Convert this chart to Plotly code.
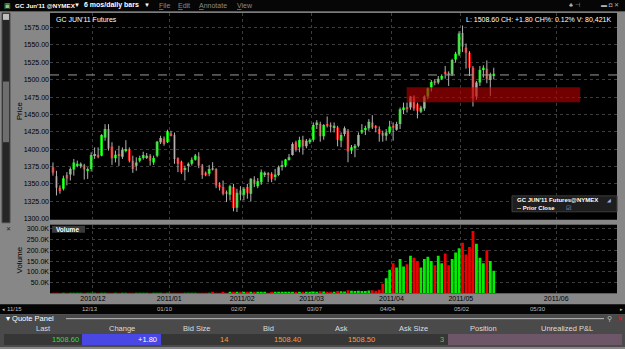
import plotly.graph_objects as go
import pandas as pd

# ---------------- data ----------------
dates = [d.strftime('%Y-%m-%d') for d in pd.bdate_range('2010-11-15', '2011-05-13')
         if d.strftime('%Y-%m-%d') not in ('2010-12-24', '2011-04-22')]

opens = [1374, 1361, 1344.5, 1343, 1363, 1363.5, 1370.7, 1376, 1375.5, 1377,
         1369, 1371.6, 1390.7, 1392, 1390.7, 1417, 1429, 1404, 1387, 1393,
         1389.3, 1398, 1400.3, 1383.6, 1376.4, 1383.6, 1387.4, 1388.3, 1390.7, 1381,
         1390.7, 1410, 1415.5, 1410, 1422.7, 1420.3, 1387, 1382, 1370.7, 1376.4,
         1379, 1385, 1389.4, 1376.5, 1366, 1364.6, 1372.7, 1371.7, 1349.3, 1345.5,
         1338.3, 1334.5, 1345.5, 1315.9, 1340.7, 1334.5, 1345.5, 1335.9, 1356.5, 1346.9,
         1352.6, 1363.1, 1364.6, 1364.6, 1361.2, 1363.1, 1374.6, 1376.5, 1386, 1391.8,
         1409.9, 1402.7, 1413.7, 1404.2, 1409.9, 1413.7, 1434.7, 1436.1, 1418.5, 1436.1,
         1434.7, 1431.3, 1431.3, 1412.3, 1421.8, 1426.6, 1398, 1401.3, 1405.1, 1424.2,
         1428, 1430, 1438.5, 1432.8, 1429, 1423.3, 1419.5, 1424.2, 1433.8, 1428,
         1436.1, 1457.6, 1460, 1460, 1475.7, 1464.8, 1453.8, 1458.6, 1475.7, 1488.6,
         1498.2, 1495.8, 1501.5, 1511.5, 1509, 1507.7, 1529.2, 1536.3, 1567.3, 1545.9,
         1538.7, 1517.2, 1475.7, 1495.8, 1513.9, 1515.8, 1499.6, 1506.8]
highs = [1381, 1369, 1348, 1362, 1367, 1374, 1386, 1383.6, 1381, 1379,
         1374, 1395.5, 1402.6, 1402.6, 1421.7, 1436, 1436, 1410, 1398, 1405,
         1402.6, 1413, 1402.6, 1390.7, 1388.3, 1390.7, 1396.4, 1394.5, 1393, 1390.7,
         1412, 1419.4, 1418.4, 1428, 1426.5, 1424, 1388.3, 1383.6, 1376.4, 1381,
         1388.3, 1393.2, 1395.6, 1378.9, 1367.9, 1377.4, 1381.3, 1372.7, 1352.6, 1355,
         1340.7, 1348.8, 1350.2, 1343.1, 1346.9, 1345.5, 1350.2, 1358.4, 1361.2, 1358.4,
         1370.8, 1367.9, 1367, 1367, 1371.7, 1376.5, 1383.6, 1386, 1393.2, 1409.9,
         1412.3, 1418, 1419.4, 1414.7, 1415.6, 1438.5, 1441.8, 1439.5, 1436.1, 1447.1,
         1438.5, 1438.5, 1433.7, 1424.2, 1432.8, 1429, 1406.1, 1407.5, 1424.2, 1436.1,
         1433.8, 1443.3, 1449, 1434.7, 1432.8, 1426.6, 1429, 1440.9, 1438.5, 1439.5,
         1460, 1467.1, 1467.1, 1476.7, 1477.6, 1467.1, 1462.4, 1477.6, 1488.6, 1499.6,
         1500.5, 1505.3, 1507.7, 1519.6, 1512, 1530.1, 1540.1, 1569.7, 1577.8, 1552,
         1541, 1519.6, 1498.2, 1519.6, 1520.6, 1527.7, 1510.1, 1517.2]
lows = [1362, 1333.5, 1336, 1340.6, 1348, 1355, 1362, 1374, 1372.6, 1356.4,
        1357.3, 1368, 1386, 1387, 1389.8, 1412.2, 1398, 1377.4, 1381, 1376,
        1386, 1395.5, 1381, 1366, 1369, 1381, 1385, 1386, 1376.4, 1377.4,
        1388.3, 1407.4, 1405, 1409, 1418.4, 1379, 1367, 1364.5, 1355, 1367,
        1376.4, 1383.6, 1372.7, 1357.4, 1361.2, 1361.2, 1369.4, 1344, 1340.7, 1333.6,
        1324, 1326.4, 1310.7, 1309.7, 1326.4, 1326.4, 1328.8, 1325, 1345.5, 1344,
        1348.8, 1359.8, 1352.6, 1352.6, 1355, 1361.2, 1369.4, 1374.1, 1383.6, 1390.8,
        1396.5, 1395.6, 1392.2, 1401.3, 1407.5, 1410.8, 1429, 1410.8, 1413.7, 1431.3,
        1424.2, 1424.2, 1404.2, 1402.8, 1418.5, 1381.3, 1393.2, 1388.5, 1402.8, 1421.8,
        1420.4, 1426.6, 1429, 1424.2, 1410.8, 1410.8, 1412.3, 1421.8, 1412.3, 1426.6,
        1429, 1450.5, 1452.8, 1456.7, 1455.2, 1444.3, 1451.9, 1455.2, 1471.9, 1483,
        1492, 1493.4, 1499.6, 1501.5, 1491, 1505.3, 1524.4, 1533.9, 1539.7, 1515.8,
        1505.3, 1461.4, 1471, 1491, 1502.9, 1494.8, 1476.7, 1500.5]
closes = [1366, 1344.5, 1340, 1358.3, 1358, 1371.6, 1381, 1379, 1379, 1370.7,
          1371.6, 1391.7, 1393, 1389.8, 1420.3, 1429, 1401, 1387, 1392, 1390.7,
          1399.3, 1400.3, 1383.6, 1371.6, 1381, 1387.4, 1391.7, 1390.7, 1383.6, 1387.4,
          1410.8, 1416, 1407.4, 1426, 1420.3, 1386, 1379, 1367, 1373, 1379,
          1385, 1390.8, 1376.5, 1363.1, 1364, 1371.7, 1370.3, 1347.9, 1345.5, 1336,
          1336, 1346.9, 1315.4, 1337.4, 1334.5, 1343.1, 1337.4, 1357.4, 1350.3, 1354.1,
          1366.9, 1366, 1363.1, 1357.4, 1363.6, 1374.1, 1376.5, 1385.1, 1388.4, 1407.5,
          1399.4, 1413.2, 1404.2, 1412.3, 1413.7, 1434.7, 1438.5, 1418.5, 1434.7, 1433.7,
          1432.8, 1433.7, 1413.7, 1420.4, 1430, 1396.6, 1402.8, 1405.1, 1420.4, 1427.6,
          1430, 1439.5, 1431.4, 1431.4, 1421.8, 1419.5, 1424.2, 1432.8, 1430.9, 1436.1,
          1457.6, 1460, 1458.6, 1475.7, 1458.6, 1455.2, 1460, 1475.7, 1487.7, 1496.7,
          1495.8, 1501.5, 1505.3, 1508.7, 1507, 1528.2, 1537.3, 1566.4, 1547.3, 1538.7,
          1517.2, 1472.9, 1495.8, 1513.9, 1517.2, 1500.5, 1507.7, 1508.6]
volumes_k = [1.0, 0.8, 1.2, 0.9, 0.7, 1.1, 1.3, 0.9, 0.6, 1.0,
             1.4, 1.2, 0.9, 1.1, 1.5, 1.3, 1.6, 1.0, 0.8, 1.2,
             1.1, 0.9, 1.3, 1.0, 0.7, 0.8, 1.2, 0.6, 0.9, 1.1,
             1.0, 1.3, 0.9, 1.2, 0.8, 1.9, 1.5, 1.4, 1.1, 1.2,
             1.3, 1.0, 1.6, 1.8, 1.2, 2.0, 3.5, 2.6, 2.8, 3.2,
             2.5, 3.0, 4.2, 3.8, 3.1, 2.9, 3.6, 4.0, 3.4, 3.2,
             3.8, 3.0, 2.7, 3.5, 3.1, 3.9, 4.2, 4.6, 5.0, 6.2,
             5.5, 6.0, 6.8, 5.2, 5.6, 8.0, 7.4, 9.5, 8.2, 7.0,
             6.8, 7.5, 10.5, 9.0, 8.6, 14.0, 11.5, 10.2, 12.0, 11.0,
             10.8, 13.0, 14.5, 12.0, 16.5, 45, 70, 110, 140, 120,
             160, 125, 135, 175, 165, 150, 120, 160, 170, 150,
             130, 175, 140, 185, 130, 160, 190, 210, 235, 180,
             215, 290, 230, 165, 140, 200, 150, 105]

prior_close = 1506.8
zone_low, zone_high = 1467.5, 1489.0
month_labels = ['2010/12', '2011/01', '2011/02', '2011/03', '2011/04', '2011/05', '2011/06']
price_ticks = [1300, 1325, 1350, 1375, 1400, 1425, 1450, 1475, 1500, 1525, 1550, 1575]
vol_ticks = [50, 100, 150, 200, 250, 300]
scroll_labels = ['11/15', '12/13', '01/10', '02/07', '03/07', '04/04', '05/02', '05/30']
quote_headers = ['Last', 'Change', 'Bid Size', 'Bid', 'Ask', 'Ask Size', 'Position', 'Unrealized P&L']
quote_values = ['1508.60', '+1.80', '14', '1508.40', '1508.50', '3']

# ---------------- derived ----------------
W, H = 625, 349
n = len(dates)
xs = list(range(n))
GREEN, RED = '#00ee00', '#ee0000'
colors = [GREEN if c >= o else RED for o, c in zip(opens, closes)]

# month tick positions: boundary before first bar of each month
month_pos = []
prev = None
for i, d in enumerate(dates):
    m = d[:7]
    if prev is not None and m != prev:
        month_pos.append(i - 0.5)
    prev = m
month_pos.append(month_pos[-1] + 27.5)  # June (future, empty area)

def px(x):
    return x / W

def py(y):
    return 1 - y / H

FONT = 'Liberation Sans'

fig = go.Figure()

# wicks
wx, wy = [], []
for i in xs:
    wx += [i, i, None]
    wy += [lows[i], highs[i], None]
fig.add_trace(go.Scatter(x=wx, y=wy, mode='lines', line=dict(color='#b4b4b4', width=1),
                         hoverinfo='skip', showlegend=False, xaxis='x', yaxis='y'))
# bodies
base = [min(o, c) for o, c in zip(opens, closes)]
hgt = [max(abs(c - o), 1.2) for o, c in zip(opens, closes)]
fig.add_trace(go.Bar(x=xs, y=hgt, base=base, width=0.8, marker=dict(color=colors, line=dict(width=0)),
                     showlegend=False, xaxis='x', yaxis='y'))
# volume
fig.add_trace(go.Bar(x=xs, y=volumes_k, width=0.8, marker=dict(color=colors, line=dict(width=0)),
                     showlegend=False, xaxis='x2', yaxis='y2'))

xr = [-0.86, 162.5]
grid = dict(showgrid=True, gridcolor='#3c3c3c', gridwidth=1, griddash='dot', zeroline=False)

fig.update_layout(
    width=W, height=H, margin=dict(l=0, r=0, t=0, b=0),
    paper_bgcolor='#878787', plot_bgcolor='#000000',
    barmode='overlay', showlegend=False,
    font=dict(family=FONT, size=7, color='#000000'),
    xaxis=dict(domain=[px(50), px(617)], range=xr, tickvals=month_pos, showticklabels=False,
               ticks='', **grid),
    yaxis=dict(domain=[py(221), py(13)], range=[1298.6, 1596.0], tickvals=price_ticks,
               ticktext=[f'{v:.2f}' for v in price_ticks], ticks='', **grid,
               tickfont=dict(size=7, color='#000000', family=FONT)),
    xaxis2=dict(domain=[px(50), px(617)], range=xr, anchor='y2', tickvals=month_pos,
                ticktext=month_labels, ticks='', **grid,
                tickfont=dict(size=7, color='#000000', family=FONT)),
    yaxis2=dict(domain=[py(295), py(226)], range=[0, 319], anchor='x2', tickvals=vol_ticks,
                ticktext=[f'{v:.1f}K' for v in vol_ticks], ticks='', **grid,
                tickfont=dict(size=7, color='#000000', family=FONT)),
)

shapes = []
def rect(x0, y0, x1, y1, fill, line=None, layer='below'):
    shapes.append(dict(type='rect', xref='paper', yref='paper', x0=px(x0), x1=px(x1),
                       y0=py(y1), y1=py(y0), fillcolor=fill,
                       line=dict(width=0 if line is None else 1, color=line or fill), layer=layer))

# top bar
rect(0, 0, 625, 11, '#060606')
rect(0, 11, 625, 12, '#5a5a5a')
# left scrollbar
rect(2, 13, 10, 224, '#262626', '#4a4a4a')
rect(3, 82, 9, 143, '#6e6e6e')
rect(3, 14, 9, 20, '#bdbdbd')
# scroll row
rect(0, 306, 625, 316, '#050505')
# quote panel
rect(0, 316, 625, 349, '#4a4a4a')
rect(4, 336, 82, 347, '#363636')
rect(82, 336, 161, 347, '#4a48e4')
rect(161, 336, 448, 347, '#363636')
rect(448, 336, 622, 347, '#6c5668')

# zone rectangle (data coords)
shapes.append(dict(type='rect', xref='x', yref='y', x0=101.9, x1=151.9, y0=zone_low, y1=zone_high,
                   fillcolor='rgba(185,0,0,0.62)', line=dict(width=0), layer='above'))
# prior close line
shapes.append(dict(type='line', xref='paper', yref='y', x0=px(50), x1=px(617), y0=prior_close,
                   y1=prior_close, line=dict(color='#9a9a9a', width=1, dash='dash'), layer='above'))
# legend box
rect(512, 197, 617, 213, '#1e1e1e', '#3c3c3c', layer='above')
# volume label box
rect(52, 227, 85, 234, '#3a3a3a', None, layer='above')
# quote panel header line
shapes.append(dict(type='line', xref='paper', yref='paper', x0=px(66), x1=px(604), y0=py(320.5),
                   y1=py(320.5), line=dict(color='#bdbdbd', width=1)))
fig.update_layout(shapes=shapes)

ann = []
def txt(x, y, s, size=7, color='#ffffff', xanchor='left', angle=0):
    ann.append(dict(x=px(x), y=py(y), xref='paper', yref='paper', text=s, showarrow=False,
                    xanchor=xanchor, yanchor='middle', textangle=angle,
                    font=dict(size=size, color=color, family=FONT)))

# top bar
txt(13, 5.5, "<b>GC Jun'11 @NYMEX</b>", 6.2)
txt(72, 5.5, '▼', 6)
txt(82, 5.5, '<b>6 mos/daily bars</b>', 7)
txt(142, 5.5, '▼', 6)
txt(157, 5.5, '<u>F</u>ile', 7, '#8a8a8a')
txt(176, 5.5, '<u>E</u>dit', 7, '#8a8a8a')
txt(197, 5.5, '<u>A</u>nnotate', 7, '#8a8a8a')
txt(235, 5.5, '<u>V</u>iew', 7, '#8a8a8a')
txt(2, 5.5, '▣', 7, '#7fd07f')
txt(621, 5.5, '▬ ◘ ✕', 6, '#b0b0b0', 'right')
txt(582, 5.5, '♣ ⊣', 6, '#b0b0b0', 'right')
# chart texts
txt(54, 20, "GC JUN'11 Futures", 7)
txt(613, 20, 'L: 1508.60 CH: +1.80 CH%: 0.12% V: 80,421K', 7, '#ffffff', 'right')
txt(19, 112, 'Price', 8, '#000000', 'center', -90)
txt(19, 262, 'Volume', 8, '#000000', 'center', -90)
txt(515, 201, "<b>GC JUN'11 Futures@NYMEX</b>", 6)
txt(605, 201, '◢', 5, '#8fb4ff')
txt(515, 209, '<b>-- Prior Close</b>', 6)
txt(564, 209, '☑', 6, '#8fb4ff')
txt(54, 230.5, '<b>Volume</b>', 6.5)
txt(4, 230, '✕', 6, '#222222')
# scroll row labels
scroll_x = [14, 90, 165, 239, 315, 388, 462, 538]
for sx, sl in zip(scroll_x, scroll_labels):
    txt(sx, 311, sl, 6, '#bdbdbd', 'center')
txt(0, 311, '◂', 5, '#bdbdbd')
txt(625, 311, '▸', 5, '#bdbdbd', 'right')
# quote panel
txt(4, 320.5, '▾ Quote Panel', 7.5, '#ffffff')
txt(609, 320.5, '⚲', 7, '#bdbdbd', 'center')
txt(620, 320.5, '<b>✕</b>', 7, '#cc2222', 'center')
head_x = [43, 121.5, 197, 268, 341, 413.5, 483, 567]
for hx, hs in zip(head_x, quote_headers):
    txt(hx, 330.5, hs, 7.5, '#dddddd', 'center')
val_x = [81, 159, 230, 303, 376.5, 446]
val_c = ['#33dd33', '#ffffff', '#ff9933', '#ff9933', '#ff9933', '#33dd33']
for vx, vs, vc in zip(val_x, quote_values, val_c):
    txt(vx, 341.5, vs, 7.5, vc, 'right')
fig.update_layout(annotations=ann)

fig.write_html('out.html')
